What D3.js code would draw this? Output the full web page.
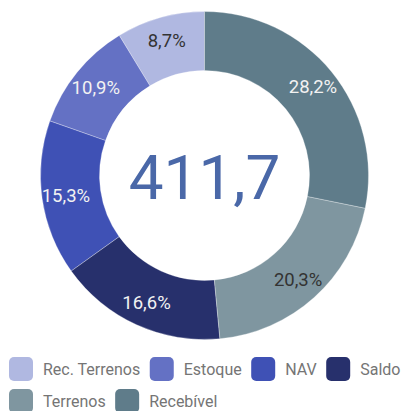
<!DOCTYPE html>
<html>
<head>
<meta charset="utf-8">
<script src="https://cdn.jsdelivr.net/npm/d3@7"></script>
<style>
html,body{margin:0;padding:0;background:#fff;overflow:hidden;}
svg{display:block;font-family:Roboto, "Noto Sans", sans-serif;}
</style>
</head>
<body>
<svg id="chart" width="402" height="411"></svg>
<script>
const categories = ["Rec. Terrenos", "Estoque", "NAV", "Saldo", "Terrenos", "Recebível"];
const values = [8.7, 10.9, 15.3, 16.6, 20.3, 28.2];
const colors = ["#b0b8e1", "#6471c4", "#3f51b5", "#27306c", "#7f96a0", "#5f7c8a"];
const labelColors = ["#333333", "#f2f2f2", "#f2f2f2", "#f2f2f2", "#333333", "#f2f2f2"];
const centerValue = 411.7;

const data = categories.map((c, i) => ({name: c, value: values[i], color: colors[i], lc: labelColors[i]}));
const locale = d3.formatLocale({decimal: ",", thousands: ".", grouping: [3], currency: ["R$", ""]});
const fmt1 = locale.format(".1f");

const svg = d3.select("#chart");
const cx = 204.5, cy = 175.5, rOuter = 164, rInner = 105, rLabel = 140;

const pie = d3.pie().sort(null).value(d => d.value).startAngle(0).endAngle(-2 * Math.PI);
const arc = d3.arc().innerRadius(rInner).outerRadius(rOuter);
const labelArc = d3.arc().innerRadius(rLabel).outerRadius(rLabel);
const arcs = pie(data);

const g = svg.append("g").attr("transform", `translate(${cx},${cy})`);
g.selectAll("path").data(arcs).join("path")
  .attr("d", arc)
  .attr("fill", d => d.data.color)
  .attr("stroke", "#ffffff")
  .attr("stroke-opacity", 0.5)
  .attr("stroke-width", 0.6);

g.selectAll("text.lbl").data(arcs).join("text")
  .attr("class", "lbl")
  .attr("transform", d => `translate(${labelArc.centroid(d)})`)
  .attr("text-anchor", "middle")
  .attr("dy", "0.35em")
  .attr("font-size", 18.5)
  .attr("fill", d => d.data.lc)
  .text(d => fmt1(d.data.value) + "%");

g.append("text")
  .attr("text-anchor", "middle")
  .attr("y", 2)
  .attr("dy", "0.35em")
  .attr("font-size", 62)
  .attr("fill", "#4a68a8")
  .text(fmt1(centerValue));

// legend (flow layout)
const legend = svg.append("g");
const sq = 24, gapText = 10, gapItem = 9.5, rowH = 32, startX = 9, startY = 357, maxW = 408;
let x = startX, y = startY;
data.forEach(d => {
  const item = legend.append("g");
  const t = item.append("text")
    .attr("x", sq + gapText)
    .attr("y", sq / 2)
    .attr("dy", "0.35em")
    .attr("font-size", 16)
    .attr("fill", "#757575")
    .text(d.name);
  const w = sq + gapText + t.node().getComputedTextLength();
  if (x + w > maxW && x > startX) { x = startX; y += rowH; }
  item.insert("rect", "text")
    .attr("width", sq).attr("height", sq)
    .attr("rx", 5).attr("ry", 5)
    .attr("fill", d.color);
  item.attr("transform", `translate(${x},${y})`);
  x += w + gapItem;
});
</script>
</body>
</html>
